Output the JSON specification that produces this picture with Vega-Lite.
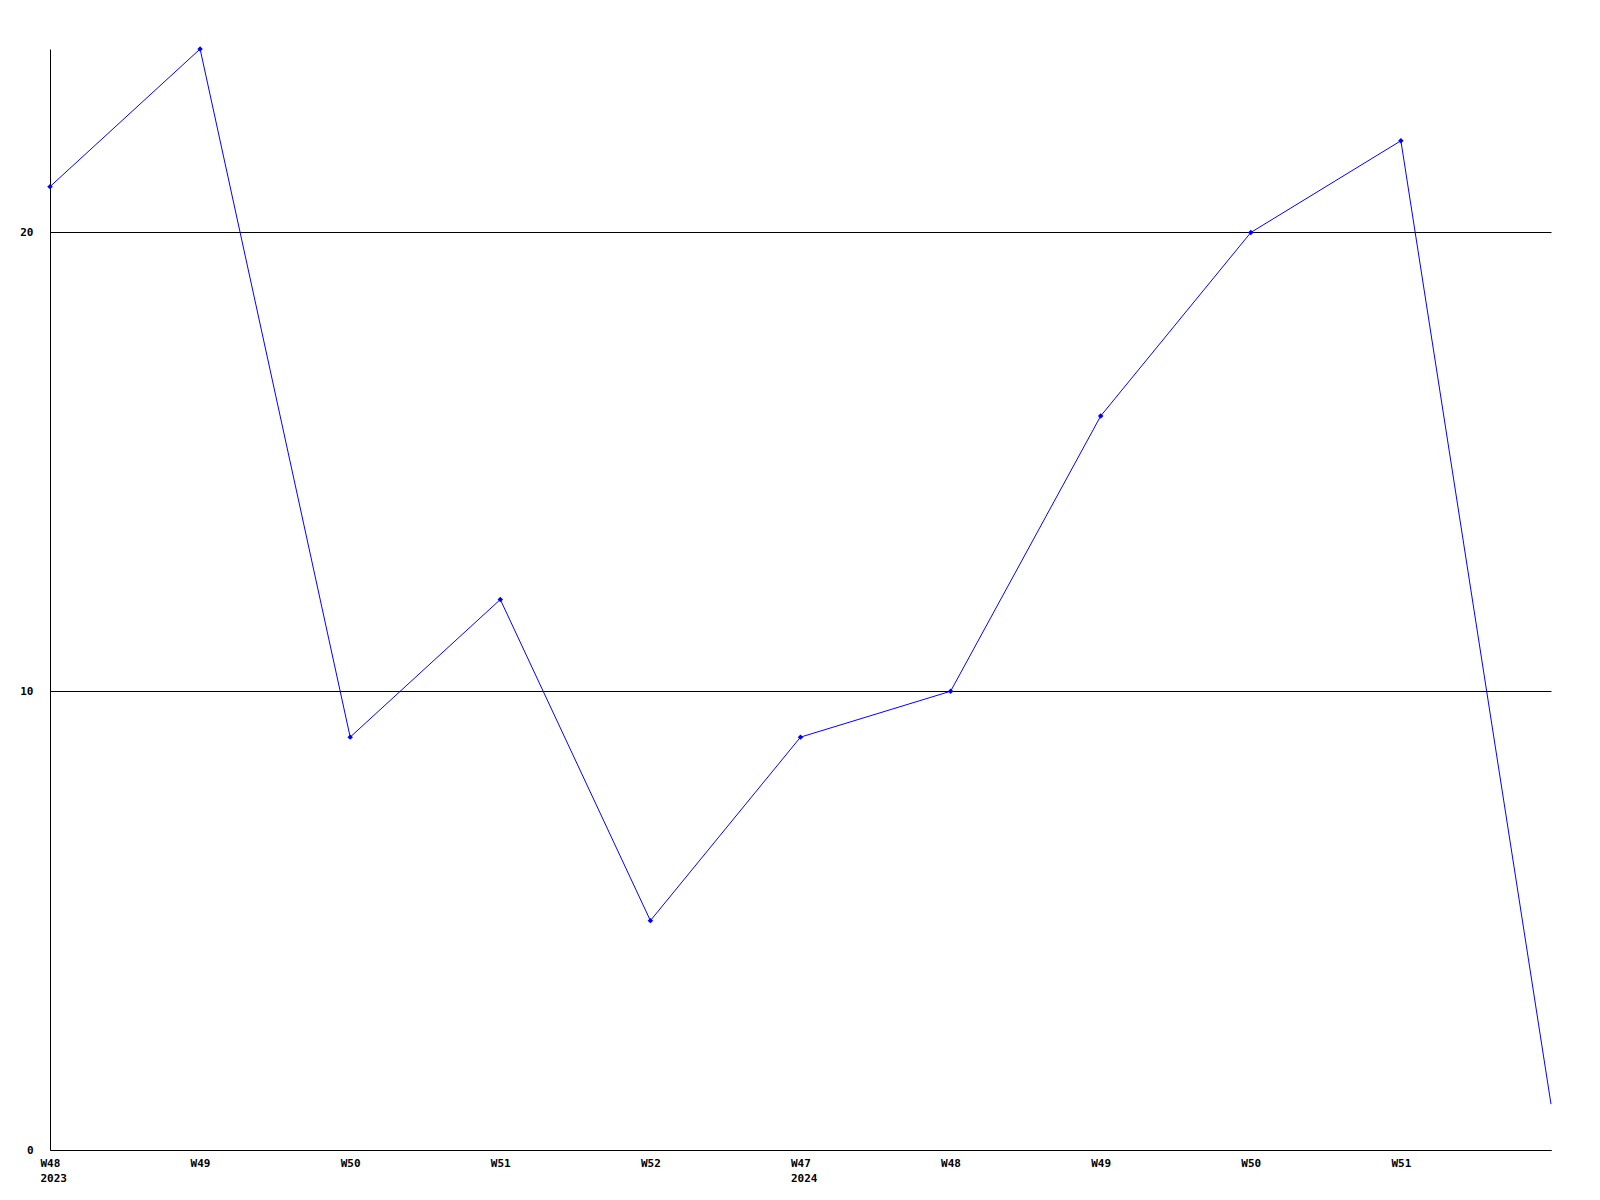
{
  "$schema": "https://vega.github.io/schema/vega-lite/v6.json",
  "width": 1501,
  "height": 1101,
  "autosize": {"type": "none"},
  "padding": {"left": 50, "top": 49, "right": 49, "bottom": 50},
  "background": "white",
  "config": {
    "view": {"stroke": null},
    "axis": {
      "labelFont": "DejaVu Sans Mono",
      "labelFontWeight": "bold",
      "labelFontSize": 11,
      "labelColor": "black",
      "domainColor": "black",
      "domainWidth": 1,
      "ticks": false,
      "title": null
    }
  },
  "data": {
    "values": [
      {"week": "2023-W48", "label": "W48\n2023", "value": 21},
      {"week": "2023-W49", "label": "W49", "value": 24},
      {"week": "2023-W50", "label": "W50", "value": 9},
      {"week": "2023-W51", "label": "W51", "value": 12},
      {"week": "2023-W52", "label": "W52", "value": 5},
      {"week": "2024-W47", "label": "W47\n2024", "value": 9},
      {"week": "2024-W48", "label": "W48", "value": 10},
      {"week": "2024-W49", "label": "W49", "value": 16},
      {"week": "2024-W50", "label": "W50", "value": 20},
      {"week": "2024-W51", "label": "W51", "value": 22},
      {"week": "2024-W52", "label": "", "value": 1}
    ]
  },
  "encoding": {
    "x": {
      "field": "week",
      "type": "ordinal",
      "sort": null,
      "scale": {"type": "point", "padding": 0},
      "axis": {
        "labelAngle": 0,
        "labelAlign": "left",
        "labelBaseline": "top",
        "labelPadding": 7,
        "labelOffset": -10,
        "labelLineHeight": 15,
        "labelExpr": "{'2023-W48':['W48','2023'],'2023-W49':'W49','2023-W50':'W50','2023-W51':'W51','2023-W52':'W52','2024-W47':['W47','2024'],'2024-W48':'W48','2024-W49':'W49','2024-W50':'W50','2024-W51':'W51','2024-W52':''}[datum.value]",
        "grid": false
      }
    },
    "y": {
      "field": "value",
      "type": "quantitative",
      "scale": {"domain": [0, 24], "nice": false, "zero": true},
      "axis": {
        "values": [0, 10, 20],
        "grid": true,
        "gridColor": "black",
        "gridOpacity": 1,
        "gridWidth": 1,
        "labelPadding": 17,
        "labelBaseline": "middle"
      }
    }
  },
  "layer": [
    {"mark": {"type": "line", "color": "#0000ff", "strokeWidth": 1}},
    {
      "transform": [{"filter": "datum.label != ''"}],
      "mark": {"type": "point", "shape": "diamond", "filled": true, "color": "#0000ff", "size": 30, "opacity": 1}
    }
  ]
}
